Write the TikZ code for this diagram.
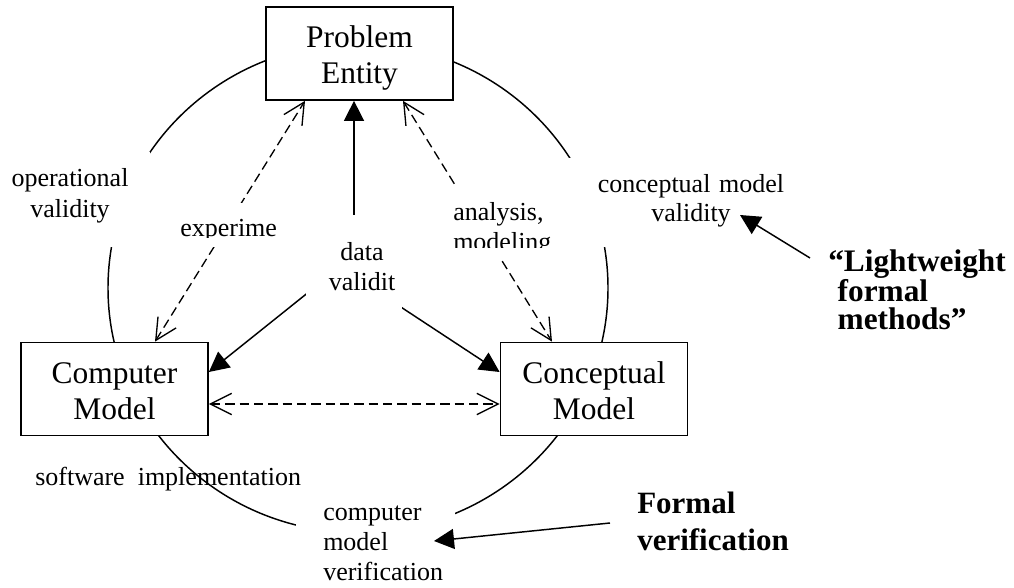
\documentclass[tikz,border=0pt]{standalone}
\usepackage{fontspec}
\setmainfont{Liberation Serif}
\usetikzlibrary{arrows.meta,calc}
\pgfdeclarelayer{background}
\pgfsetlayers{background,main}
\begin{document}
\begin{tikzpicture}[x=0.75pt,y=-0.75pt,
  box/.style={draw,line width=1.3pt,fill=white,rectangle,inner sep=0pt,
    minimum width=140.25pt,minimum height=69.75pt,text width=135pt,align=center,
    text height=0pt,text depth=8.25pt,font=\fontsize{23.6}{27}\selectfont},
  lbl/.style={inner sep=0pt,font=\fontsize{19.5}{23.25}\selectfont},
  boldlbl/.style={inner sep=0pt,text width=150pt,align=left,anchor=base west},
  line/.style={line width=1.1pt},
  solidarrow/.style={line,-{Triangle[length=15pt,width=15pt]}},
  dasharrow/.style={line width=1pt,dash pattern=on 7pt off 3.75pt,
    {Straight Barb[length=16pt,width=16pt]}-{Straight Barb[length=16pt,width=16pt]}},
  cover/.style={fill=white}
]
\useasboundingbox (0,0) rectangle (1014,588);

% main boxes
\node[box] (pe) at (359.5,53.5) {Problem\\Entity};
\node[box] (cm) at (114.5,389) {Computer\\Model};
\node[box] (cc) at (594,389) {Conceptual\\Model};

% white label areas
\fill[cover] (0,152) rectangle (150,247);
\fill[cover] (172,203) rectangle (285,247);
\fill[cover] (445,185) rectangle (560,260);
\fill[cover] (306,215) rectangle (402,310);
\fill[cover] (568,158) rectangle (800,247);
\fill[cover] (296,497) rectangle (455,588);

% labels
\node[lbl,text width=97.5pt,align=center,anchor=base] (opv) at (70,187) {operational\\validity};
\begin{scope}
  \clip (172,203) rectangle (280,237.5);
  \node[lbl,anchor=base west] (exv) at (180,237) {experime};
\end{scope}
\begin{scope}
  \clip (445,185) rectangle (560,247);
  \node[lbl,text width=82.5pt,align=left,anchor=base west] (anv) at (453,220) {analysis,\\modeling};
\end{scope}
\node[lbl,text width=60pt,align=center,anchor=base,font=\fontsize{19.5}{22.5}\selectfont] (dv) at (362,260) {data\\validit};
\node[lbl,text width=165pt,align=center,anchor=base,font=\fontsize{19.5}{21.75}\selectfont] (cmv) at (691,193) {conceptual model\\validity};
\node[lbl,anchor=base west] (si) at (35,485) {software\ \ implementation};
\node[lbl,text width=112pt,align=left,anchor=base west,font=\fontsize{19.5}{22.5}\selectfont] (cmver) at (323,520) {computer\\model\\verification};
\node[boldlbl,font=\fontsize{23.25}{27.75}\bfseries\selectfont] (fv) at (637,513) {Formal\\verification};
\node[boldlbl,font=\fontsize{23.5}{21.75}\bfseries\selectfont] (lw) at (828,272) {“Lightweight\\\hspace*{0.3em}formal\\\hspace*{0.3em}methods”};

% annotation arrows
\draw[solidarrow] ($(lw.base west)+(-18,-14)$) -- ($(cmv.base)+(49,22)$);
\draw[solidarrow] ($(fv.base west)+(-27,10)$) -- ($(cmver.base west)+(111,21)$);

\begin{pgfonlayer}{background}
  \draw[line] (358,288) ellipse [x radius=187.5pt, y radius=183.45pt];
  \draw[solidarrow] ($(dv.base)+(-8,0)$) -- ($(pe.south)+(-5.5,0)$);
  \draw[solidarrow] ($(dv.base)+(-22,7)$) -- ($(cm.east)+(0,-17)$);
  \draw[solidarrow] ($(dv.base)+(-22,7)$) -- ($(cc.west)+(0,-17)$);
  \draw[dasharrow] ($(cm.east)+(0,15)$) -- ($(cc.west)+(0,15)$);
  \draw[dasharrow] ($(cm.north)+(40.5,0)$) -- ($(pe.south)+(-54.5,0)$);
  \draw[dasharrow] ($(pe.south)+(43.5,0)$) -- ($(cc.north)+(-42,0)$);
\end{pgfonlayer}
\end{tikzpicture}
\end{document}
